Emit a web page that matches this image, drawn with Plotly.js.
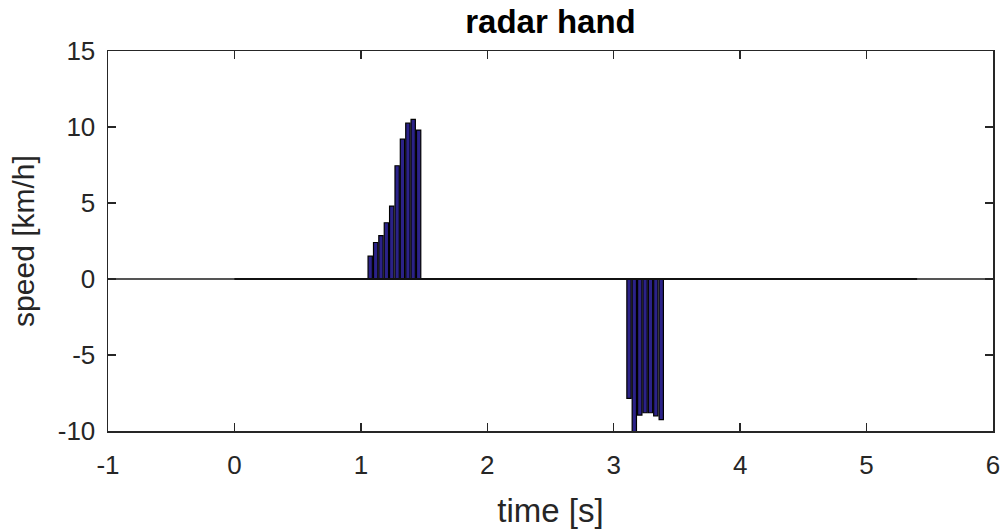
<!DOCTYPE html>
<html>
<head>
<meta charset="utf-8">
<script src="https://cdn.plot.ly/plotly-3.0.1.min.js"></script>
<style>html,body{margin:0;padding:0;background:#fff;}#chart{width:1007px;height:529px;}</style>
</head>
<body>
<div id="chart"></div>
<script>
// Recorded time span of the radar signal [s]
const recordSpan = [0, 5.4];
// Forward hand movement burst
const upTimes  = [1.074, 1.117, 1.159, 1.202, 1.244, 1.287, 1.329, 1.372, 1.414, 1.457];
const upSpeeds = [1.5, 2.4, 2.85, 3.7, 4.8, 7.45, 9.2, 10.25, 10.5, 9.8];
// Backward hand movement burst
const downTimes  = [3.121, 3.163, 3.206, 3.248, 3.291, 3.333, 3.376];
const downSpeeds = [-7.85, -10.6, -8.95, -8.8, -8.8, -9.0, -9.25];
const xTicks = [-1, 0, 1, 2, 3, 4, 5, 6];
const yTicks = [-10, -5, 0, 5, 10, 15];

const barColor = '#2b2288';
const FONT = 'Liberation Sans, Arial, Helvetica, sans-serif';

const traces = [
  {
    type: 'scatter', mode: 'lines',
    x: recordSpan, y: [0, 0],
    line: {color: '#111', width: 2},
    hoverinfo: 'skip', showlegend: false
  },
  {
    type: 'bar', x: upTimes.concat(downTimes), y: upSpeeds.concat(downSpeeds),
    width: 0.034,
    marker: {color: barColor, line: {color: '#000', width: 1.2}},
    showlegend: false
  }
];

const layout = {
  width: 1007, height: 529,
  margin: {l: 108, r: 14, t: 51, b: 98},
  paper_bgcolor: '#fff', plot_bgcolor: '#fff',
  font: {family: FONT, color: '#262626'},
  title: {text: '<b>radar hand</b>', font: {size: 33, color: '#000', family: FONT},
          xref: 'paper', x: 0.5, xanchor: 'center', yref: 'container', y: 0.982, yanchor: 'top'},
  xaxis: {
    range: [-1, 6], tickvals: xTicks, ticktext: xTicks.map(String),
    ticks: 'inside', ticklen: 8, tickwidth: 1.3, tickcolor: '#262626',
    showline: true, linecolor: '#262626', linewidth: 1.5, mirror: 'ticks',
    showgrid: false, zeroline: false,
    tickfont: {size: 26, color: '#262626'}, ticklabelstandoff: 10,
    title: {text: 'time [s]', font: {size: 33, color: '#262626'}, standoff: 22}
  },
  yaxis: {
    range: [-10, 15], tickvals: yTicks, ticktext: yTicks.map(String),
    ticks: 'inside', ticklen: 8, tickwidth: 1.3, tickcolor: '#262626',
    showline: true, linecolor: '#262626', linewidth: 1.5, mirror: 'ticks',
    showgrid: false, zeroline: true, zerolinecolor: '#555', zerolinewidth: 1.5,
    tickfont: {size: 26, color: '#262626'}, ticklabelstandoff: 6,
    title: {text: 'speed [km/h]', font: {size: 30, color: '#262626'}, standoff: 14}
  },
  bargap: 0.2
};

Plotly.newPlot('chart', traces, layout, {displayModeBar: false, staticPlot: true});
</script>
</body>
</html>
